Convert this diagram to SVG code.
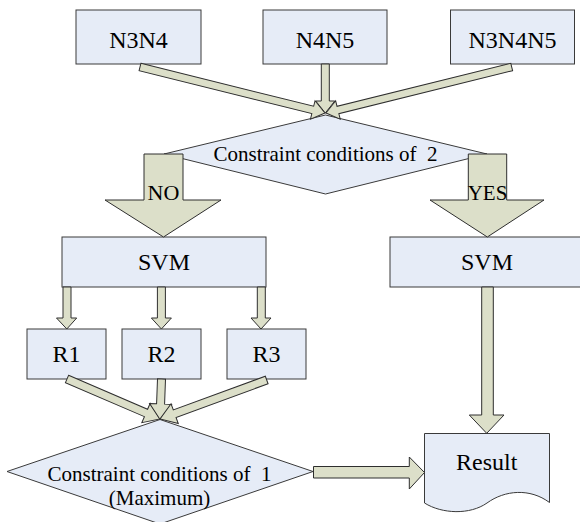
<svg xmlns="http://www.w3.org/2000/svg" width="580" height="522" viewBox="0 0 580 522">
<defs>
<style>
.node{fill:#e6ecf7;stroke:#3a3a3a;stroke-width:1}
.arr{fill:#dcdfc9;stroke:#2e2e2e;stroke-width:1;stroke-linejoin:miter}
text{fill:#000;text-anchor:middle;white-space:pre}
.t24{font-size:24px}
.t21{font-size:21px}
.t22{font-size:22px}
</style>
</defs>
<rect width="580" height="522" fill="#ffffff"/>
<g font-family="'Liberation Serif', 'DejaVu Serif', serif">
<g id="n3n4"><rect class="node" x="76" y="10" width="125" height="54"/><text class="t24" x="138.5" y="48">N3N4</text></g>
<g id="n4n5"><rect class="node" x="263" y="10" width="124" height="54"/><text class="t24" x="325" y="48">N4N5</text></g>
<g id="n3n4n5"><rect class="node" x="450.5" y="10" width="124" height="54"/><text class="t24" x="512.5" y="48">N3N4N5</text></g>
<g id="cond2"><polygon class="node" points="164,154 325.5,115 487,154 325.5,194"/><text class="t21" x="325.5" y="161" xml:space="preserve">Constraint conditions of  2</text></g>
<g id="svm_left"><rect class="node" x="62" y="237" width="204" height="50"/><text class="t24" x="164" y="270">SVM</text></g>
<g id="svm_right"><rect class="node" x="390" y="237" width="200" height="50"/><text class="t24" x="487" y="270">SVM</text></g>
<g id="r1"><rect class="node" x="27" y="329" width="79" height="50"/><text class="t24" x="66.5" y="362">R1</text></g>
<g id="r2"><rect class="node" x="122" y="329" width="79" height="50"/><text class="t24" x="161.5" y="362">R2</text></g>
<g id="r3"><rect class="node" x="227" y="329" width="79" height="50"/><text class="t24" x="266.5" y="362">R3</text></g>
<g id="cond1"><polygon class="node" points="7,471.5 160,419.5 313,471.5 160,524"/><text class="t21" x="159.5" y="481" xml:space="preserve">Constraint conditions of  1</text><text class="t21" x="159.5" y="505">(Maximum)</text></g>
<g id="result"><path class="node" d="M424.5,433.5 L549.5,433.5 L549.5,502.5 C530,488 505,490 487,503 C470,515 442,514 424.5,503 Z"/><text class="t24" x="486.7" y="470">Result</text></g>
<g id="connectors">
<polygon class="arr" transform="translate(140,67) rotate(13.96)" points="0,-3.8 178,-3.8 178,-9.5 190.6,0 178,9.5 178,3.8 0,3.8"/>
<polygon class="arr" transform="translate(325.3,64) rotate(90)" points="0,-4 37,-4 37,-9.5 49,0 37,9.5 37,4 0,4"/>
<polygon class="arr" transform="translate(511.7,67) rotate(166.1)" points="0,-3.8 179,-3.8 179,-9.5 191.3,0 179,9.5 179,3.8 0,3.8"/>
<polygon class="arr" points="144,154 183,154 183,200 221,200 163.5,237 105,200 144,200"/>
<text class="t22" x="163.5" y="200">NO</text>
<polygon class="arr" points="468.3,154 506.7,154 506.7,200 544,200 487.3,237 430,200 468.3,200"/>
<text class="t21" x="487.5" y="200">YES</text>
<polygon class="arr" points="63,287 71,287 71,318 76.7,318 66.8,329 56.5,318 63,318"/>
<polygon class="arr" points="157.4,287 165.4,287 165.4,318 171.4,318 161.4,329 151.4,318 157.4,318"/>
<polygon class="arr" points="257.3,287 265.3,287 265.3,318 271,318 261,329 251,318 257.3,318"/>
<polygon class="arr" transform="translate(67,379) rotate(23.27)" points="0,-4 86,-4 86,-10.5 101.2,0 86,10.5 86,4 0,4"/>
<polygon class="arr" transform="translate(161.5,379) rotate(92.1)" points="0,-4 25,-4 25,-11 40.5,0 25,11 25,4 0,4"/>
<polygon class="arr" transform="translate(266.7,380) rotate(159.9)" points="0,-4 98,-4 98,-10.5 113.6,0 98,10.5 98,4 0,4"/>
<polygon class="arr" points="481.7,287 493.3,287 493.3,415 504,415 486.7,433.3 469.3,415 481.7,415"/>
<polygon class="arr" points="313.5,466.5 409.3,466.5 409.3,457 424.5,472.5 409.3,489 409.3,478 313.5,478"/>
</g>
</g>
</svg>
